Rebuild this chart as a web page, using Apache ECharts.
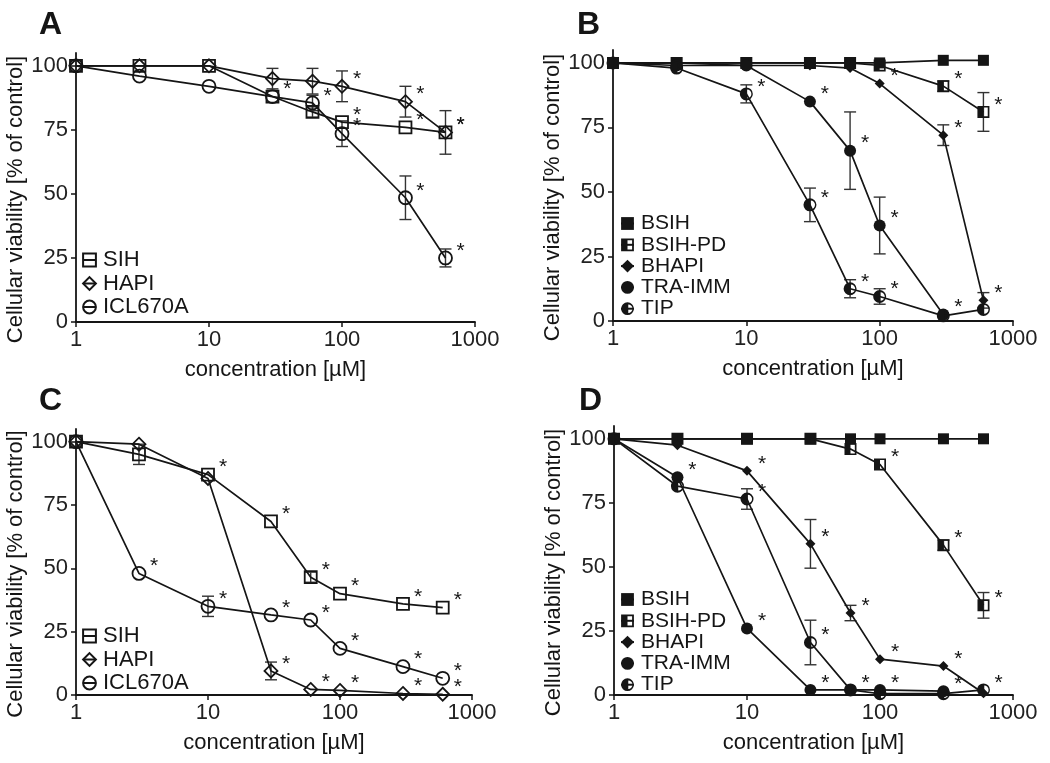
<!DOCTYPE html>
<html><head><meta charset="utf-8">
<script src="https://cdn.jsdelivr.net/npm/echarts@6/dist/echarts.min.js"></script>
<style>html,body{margin:0;padding:0;background:#fff}#c{width:1050px;height:763px}</style>
</head><body><div id="c"></div>
<script>
// concentrations (µM)
const conc = [1, 3, 10, 30, 60, 100, 300, 600];
const yTickValues = [0, 25, 50, 75, 100];
const panelLabels = ['A', 'B', 'C', 'D'];
const xName = 'concentration [µM]';
const yName = 'Cellular viability [% of control]';

// ---- Panel A ----
const A_SIH      = [100, 100, 100, 88, 82, 78, 76, 74];
const A_SIH_err  = [null, null, null, null, 2, null, null, 8.5];
const A_SIH_sig  = [0, 0, 0, 1, 0, 1, 1, 1];
const A_HAPI     = [100, 100, 100, 95, 94, 92, 86, 74];
const A_HAPI_err = [null, null, null, 4, 5, 6, 6, null];
const A_HAPI_sig = [0, 0, 0, 0, 0, 1, 1, 1];
const A_ICL      = [100, 96, 92, 88, 85.5, 73.5, 48.5, 25];
const A_ICL_err  = [null, null, null, null, 3, 5, 8.5, 3.5];
const A_ICL_sig  = [0, 0, 0, 0, 1, 1, 1, 1];

// ---- Panel B ----
const B_BSIH       = [100, 100, 100, 100, 100, 100, 101, 101];
const B_BSIH_sig   = [0, 0, 0, 0, 0, 0, 0, 0];
const B_BSIHPD     = [100, 100, 100, 100, 100, 99, 91, 81];
const B_BSIHPD_err = [null, null, null, null, null, null, 2, 7.5];
const B_BSIHPD_sig = [0, 0, 0, 0, 0, 0, 1, 1];
const B_BHAPI      = [100, 100, 99, 99, 98, 92, 72, 8];
const B_BHAPI_err  = [null, null, null, null, null, null, 4, 3];
const B_BHAPI_sig  = [0, 0, 0, 0, 0, 1, 1, 1];
const B_TRA        = [100, 99, 99, 85, 66, 37, 2.5, null];
const B_TRA_err    = [null, null, null, null, 15, 11, null, null];
const B_TRA_sig    = [0, 0, 0, 1, 1, 1, 1, 0];
const B_TIP        = [100, 98, 88, 45, 12.5, 9.5, 2, 4.5];
const B_TIP_err    = [null, null, 3.5, 6.5, 3.5, 3, null, null];
const B_TIP_sig    = [0, 0, 1, 1, 1, 1, 0, 0];

// ---- Panel C ----
const C_SIH      = [100, 95, 87, 68.5, 46.5, 40, 36, 34.5];
const C_SIH_err  = [null, 4, null, null, 2, null, null, null];
const C_SIH_sig  = [0, 0, 1, 1, 1, 1, 1, 1];
const C_HAPI     = [100, 99, 85.5, 9.5, 2.2, 1.8, 0.6, 0.3];
const C_HAPI_err = [null, null, null, 3.5, null, null, null, null];
const C_HAPI_sig = [0, 0, 0, 1, 1, 1, 1, 1];
const C_ICL      = [100, 48, 35, 31.6, 29.6, 18.4, 11.2, 6.6];
const C_ICL_err  = [null, null, 4, null, null, null, null, null];
const C_ICL_sig  = [0, 1, 1, 1, 1, 1, 1, 1];

// ---- Panel D ----
const D_BSIH       = [100, 100, 100, 100, 100, 100, 100, 100];
const D_BSIH_sig   = [0, 0, 0, 0, 0, 0, 0, 0];
const D_BSIHPD     = [100, 100, 100, 100, 96, 90, 58.5, 35];
const D_BSIHPD_err = [null, null, null, null, null, null, 2, 5];
const D_BSIHPD_sig = [0, 0, 0, 0, 0, 1, 1, 1];
const D_BHAPI      = [100, 97.5, 87.5, 59, 32, 14, 11.3, 0.7];
const D_BHAPI_err  = [null, null, null, 9.5, 3, null, null, null];
const D_BHAPI_sig  = [0, 0, 1, 1, 1, 1, 1, 0];
const D_TRA        = [100, 85, 26, 2, 2, 2, 1.5, null];
const D_TRA_sig    = [0, 1, 1, 1, 1, 1, 1, 0];
const D_TIP        = [100, 81.5, 76.5, 20.5, 2, 0.5, 0.5, 2];
const D_TIP_err    = [null, null, 4, 8.7, null, null, null, null];
const D_TIP_sig    = [0, 0, 1, 1, 0, 0, 0, 1];

// ---- styling ----
const FONT = "'Liberation Sans', Arial, sans-serif";
const INK = '#151515';
const halfSquare = 'path://M0,0H10V10H0Z M5,1.4V8.6H8.6V1.4Z';
const halfCircle = 'path://M5,0A5,5,0,1,1,5,10A5,5,0,1,1,5,0Z M5.6,1.7L5.6,8.3A3.3,3.3,0,0,0,5.6,1.7Z';
const markers = {
  SIH:   {symbol: 'rect', size: 12, hollow: true},
  HAPI:  {symbol: 'diamond', size: 13, hollow: true},
  ICL:   {symbol: 'circle', size: 13, hollow: true},
  BSIH:  {symbol: 'rect', size: 11, hollow: false},
  BSIHPD:{symbol: halfSquare, size: 12, hollow: false},
  BHAPI: {symbol: 'diamond', size: 10, hollow: false},
  TRA:   {symbol: 'circle', size: 12, hollow: false},
  TIP:   {symbol: halfCircle, size: 13, hollow: false}
};

const grids = [
  {left: 76, top: 53, width: 399, height: 269},
  {left: 613, top: 50, width: 400, height: 271},
  {left: 76, top: 429, width: 396, height: 266},
  {left: 614, top: 426, width: 399, height: 269}
];

const panels = [
  {legend: {left: 82, top: 249, gap: 1.5, fs: 22}, series: [
    ['SIH', 'SIH', A_SIH, A_SIH_err, A_SIH_sig],
    ['HAPI', 'HAPI', A_HAPI, A_HAPI_err, A_HAPI_sig],
    ['ICL670A', 'ICL', A_ICL, A_ICL_err, A_ICL_sig]]},
  {legend: {left: 620, top: 213, gap: 0.3, fs: 21}, series: [
    ['BSIH', 'BSIH', B_BSIH, null, B_BSIH_sig],
    ['BSIH-PD', 'BSIHPD', B_BSIHPD, B_BSIHPD_err, B_BSIHPD_sig],
    ['BHAPI', 'BHAPI', B_BHAPI, B_BHAPI_err, B_BHAPI_sig],
    ['TRA-IMM', 'TRA', B_TRA, B_TRA_err, B_TRA_sig],
    ['TIP', 'TIP', B_TIP, B_TIP_err, B_TIP_sig]]},
  {legend: {left: 82, top: 625, gap: 1.5, fs: 22}, series: [
    ['SIH', 'SIH', C_SIH, C_SIH_err, C_SIH_sig],
    ['HAPI', 'HAPI', C_HAPI, C_HAPI_err, C_HAPI_sig],
    ['ICL670A', 'ICL', C_ICL, C_ICL_err, C_ICL_sig]]},
  {legend: {left: 620, top: 589, gap: 0.3, fs: 21}, series: [
    ['BSIH', 'BSIH', D_BSIH, null, D_BSIH_sig],
    ['BSIH-PD', 'BSIHPD', D_BSIHPD, D_BSIHPD_err, D_BSIHPD_sig],
    ['BHAPI', 'BHAPI', D_BHAPI, D_BHAPI_err, D_BHAPI_sig],
    ['TRA-IMM', 'TRA', D_TRA, null, D_TRA_sig],
    ['TIP', 'TIP', D_TIP, D_TIP_err, D_TIP_sig]]}
];

const titlePos = [{left: 39, top: 9}, {left: 577, top: 9}, {left: 39, top: 385}, {left: 579, top: 385}];

function errorRender(params, api) {
  const x = api.value(0);
  const lo = api.coord([x, api.value(1)]);
  const hi = api.coord([x, api.value(2)]);
  const w = 6;
  const st = {stroke: '#333', lineWidth: 1.4};
  return {type: 'group', children: [
    {type: 'line', shape: {x1: lo[0], y1: lo[1], x2: hi[0], y2: hi[1]}, style: st},
    {type: 'line', shape: {x1: lo[0] - w, y1: lo[1], x2: lo[0] + w, y2: lo[1]}, style: st},
    {type: 'line', shape: {x1: hi[0] - w, y1: hi[1], x2: hi[0] + w, y2: hi[1]}, style: st}
  ]};
}

const series = [], legends = [], xAxes = [], yAxes = [], titles = [];
panels.forEach((p, k) => {
  xAxes.push({
    type: 'log', logBase: 10, min: 1, max: 1000, gridIndex: k,
    name: xName, nameLocation: 'middle', nameGap: 37,
    nameTextStyle: {fontSize: 22, color: INK, fontFamily: FONT},
    axisLine: {lineStyle: {color: INK, width: 1.8}},
    axisTick: {length: 5, lineStyle: {color: INK, width: 1.5}},
    axisLabel: {fontSize: 22, color: '#222', margin: 7, fontFamily: FONT,
      formatter: (v) => String(Math.round(v))},
    splitLine: {show: false}, minorSplitLine: {show: false}
  });
  yAxes.push({
    type: 'value', min: 0, max: 105, gridIndex: k,
    name: yName, nameLocation: 'middle', nameGap: 48,
    nameTextStyle: {fontSize: 22, color: INK, fontFamily: FONT, padding: [0, 24, 0, 0]},
    axisLine: {show: true, lineStyle: {color: INK, width: 1.8}},
    axisTick: {show: true, length: 5, customValues: yTickValues, lineStyle: {color: INK, width: 1.5}},
    axisLabel: {fontSize: 22, color: '#222', margin: 8, customValues: yTickValues, fontFamily: FONT},
    splitLine: {show: false}
  });
  titles.push({text: panelLabels[k], left: titlePos[k].left, top: titlePos[k].top, padding: 0,
    textStyle: {fontSize: 32, fontWeight: 'bold', color: INK, fontFamily: FONT}});
  legends.push({
    data: p.series.map(s => s[0]), orient: 'vertical', left: p.legend.left, top: p.legend.top,
    itemWidth: 13, itemHeight: 16, itemGap: p.legend.gap, padding: 0, selectedMode: false,
    textStyle: {fontSize: p.legend.fs, color: INK, fontFamily: FONT, padding: [0, 0, 0, 2]}
  });
  p.series.forEach((s, j) => {
    const [name, key, vals, err, sig] = s;
    const m = markers[key];
    series.push({
      type: 'line', name: name, xAxisIndex: k, yAxisIndex: k,
      data: conc.map((x, i) => [x, vals[i]]),
      symbol: m.symbol, symbolSize: m.size, showSymbol: true, symbolKeepAspect: true,
      itemStyle: m.hollow ? {color: 'rgba(0,0,0,0)', borderColor: INK, borderWidth: 1.8}
                          : {color: INK, borderWidth: 0},
      lineStyle: {color: INK, width: 1.7},
      label: {show: true, position: 'inside', offset: [15, -7], color: INK, fontSize: 21, fontFamily: FONT,
        formatter: (pp) => sig[pp.dataIndex] ? '*' : ''},
      emphasis: {disabled: true}, animation: false, z: 3 + j
    });
    if (err) {
      series.push({
        type: 'custom', name: name + ' SD', xAxisIndex: k, yAxisIndex: k,
        data: conc.map((x, i) => err[i] == null || vals[i] == null ? null : [x, vals[i] - err[i], vals[i] + err[i]]).filter(d => d),
        encode: {x: 0, y: [1, 2]}, renderItem: errorRender, silent: true, animation: false, z: 2
      });
    }
  });
});

const chart = echarts.init(document.getElementById('c'), null, {renderer: 'canvas'});
chart.setOption({
  backgroundColor: '#fff',
  animation: false,
  textStyle: {fontFamily: FONT},
  title: titles,
  grid: grids,
  xAxis: xAxes,
  yAxis: yAxes,
  legend: legends,
  series: series
});
</script></body></html>
